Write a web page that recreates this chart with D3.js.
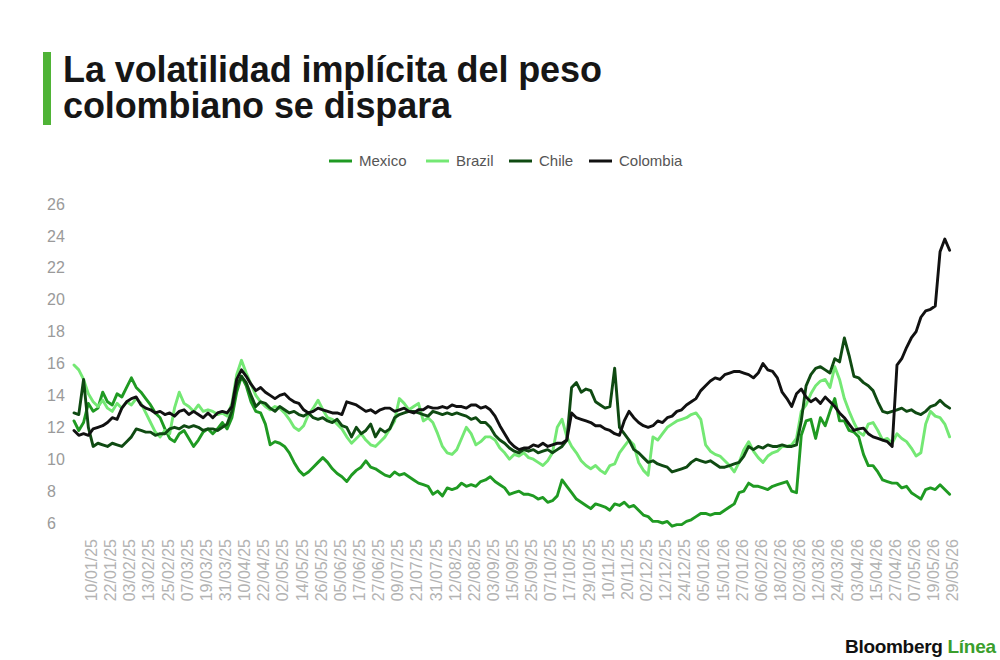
<!DOCTYPE html>
<html>
<head>
<meta charset="utf-8">
<script src="https://cdn.jsdelivr.net/npm/d3@7"></script>
<style>
  body { margin: 0; background: #fff; }
  svg { display: block; font-family: "Liberation Sans", Arial, sans-serif; }
  .title { font-size: 36px; font-weight: bold; fill: #161616; letter-spacing: -0.1px; }
  .legend text { font-size: 15px; fill: #555; }
  .y-axis text { font-size: 16px; fill: #9a9a9a; }
  .x-axis text { font-size: 16px; fill: #b3b3b3; }
  .line { fill: none; stroke-width: 2.9; stroke-linejoin: round; stroke-linecap: round; }
</style>
</head>
<body>
<svg width="1000" height="660"></svg>
<script>
// one value every 2 trading days, starting at trading day 0 (01/01/25)
var step = 2;
var lastDay = 367;

var mexico = [
  12.4,11.8,12.3,13.5,13.0,13.2,14.2,13.6,13.4,14.1,
  13.9,14.5,15.1,14.5,14.2,13.8,13.4,12.9,12.6,11.9,
  11.3,11.1,11.6,11.8,11.3,10.8,11.2,11.7,11.9,11.6,
  11.9,12.3,11.9,12.6,14.2,15.2,14.6,13.6,13.0,12.9,
  12.2,10.9,11.1,11.0,10.8,10.4,9.8,9.3,9.0,9.2,
  9.5,9.8,10.1,9.8,9.4,9.1,8.9,8.6,9.0,9.3,
  9.5,9.9,9.5,9.4,9.2,9.0,8.9,9.2,9.0,9.1,
  8.9,8.7,8.5,8.4,8.3,7.8,8.0,7.7,8.2,8.1,
  8.2,8.5,8.3,8.4,8.3,8.6,8.7,8.9,8.6,8.4,
  8.2,7.8,7.9,8.0,7.8,7.8,7.7,7.5,7.6,7.3,
  7.4,7.7,8.7,8.3,7.9,7.5,7.3,7.1,6.9,7.2,
  7.1,7.0,6.8,7.2,7.1,7.3,7.0,7.1,6.8,6.5,
  6.4,6.1,6.1,6.0,6.1,5.8,5.9,5.9,6.1,6.2,
  6.4,6.6,6.6,6.5,6.6,6.6,6.8,7.0,7.2,7.9,
  8.0,8.5,8.3,8.3,8.2,8.1,8.3,8.4,8.5,8.6,
  8.0,7.9,11.5,12.4,12.5,11.3,12.6,12.1,13.0,13.8,
  12.4,12.4,11.8,11.7,11.4,10.3,9.6,9.6,9.2,8.7,
  8.6,8.5,8.5,8.2,8.3,7.9,7.7,7.5,8.1,8.2,
  8.1,8.4,8.1,7.8
];

var brazil = [
  15.9,15.6,15.0,14.1,13.6,13.3,13.7,13.2,13.0,13.5,
  13.2,13.6,13.4,13.8,13.5,12.9,12.3,11.7,11.4,11.8,
  11.6,13.2,14.2,13.5,13.3,13.0,13.4,13.0,13.1,13.0,
  12.8,12.9,12.7,13.5,15.3,16.2,15.4,14.7,14.0,13.6,
  13.3,13.1,13.3,13.2,12.9,12.5,12.0,11.8,12.1,12.8,
  13.2,13.7,13.1,12.6,12.5,12.2,11.9,11.4,11.0,11.3,
  11.6,11.2,10.9,10.8,11.1,11.4,11.9,12.4,13.8,13.5,
  13.1,13.3,13.5,12.4,12.6,12.3,11.6,10.8,10.4,10.3,
  10.6,11.3,12.0,11.6,10.9,11.1,11.4,11.4,11.2,10.7,
  10.4,10.0,10.3,10.2,10.4,10.1,10.0,9.8,9.6,9.9,
  10.4,12.0,12.5,11.4,10.8,10.4,9.9,9.6,9.4,9.6,
  9.3,9.1,9.6,9.7,10.4,10.8,11.2,10.9,9.8,9.3,
  9.0,11.4,11.2,11.6,12.0,12.2,12.4,12.5,12.6,12.8,
  12.9,12.5,10.9,10.5,10.3,10.2,9.9,9.6,9.2,9.8,
  10.6,11.1,10.5,10.1,9.8,10.2,10.4,10.5,10.8,10.8,
  10.9,11.3,13.0,13.4,14.1,14.6,14.9,15.0,14.5,15.8,
  15.0,13.8,13.0,12.3,11.7,11.5,12.2,12.3,11.8,11.2,
  11.3,11.0,11.6,11.3,11.1,10.7,10.2,10.4,12.2,13.0,
  12.7,12.6,12.2,11.4
];

var chile = [
  12.9,12.8,15.0,12.0,10.8,11.0,10.9,10.8,11.0,10.9,
  10.8,11.1,11.4,11.9,11.8,11.7,11.7,11.5,11.6,11.6,
  11.9,12.0,11.9,12.1,12.0,12.1,12.0,11.8,11.9,11.9,
  11.8,12.0,12.2,13.0,14.6,15.2,14.8,14.0,13.3,13.6,
  13.5,13.2,13.0,13.3,13.1,12.9,13.0,12.8,12.7,12.9,
  12.6,12.5,12.6,12.4,12.3,12.5,12.1,12.0,11.4,12.0,
  11.6,11.8,12.2,11.4,11.9,11.7,11.9,12.6,12.8,12.9,
  13.0,13.0,12.9,12.8,12.7,13.0,12.9,12.8,12.9,12.8,
  12.9,12.8,12.7,12.5,12.6,12.3,12.3,12.0,11.5,11.2,
  11.0,10.7,10.5,10.4,10.6,10.5,10.6,10.4,10.5,10.6,
  10.4,10.6,10.8,11.2,14.5,14.8,14.2,14.4,14.3,13.6,
  13.4,13.2,13.3,15.7,12.0,11.6,11.2,10.6,10.4,10.1,
  9.8,9.9,9.7,9.6,9.5,9.2,9.3,9.4,9.5,9.8,
  10.0,9.9,9.8,9.9,9.7,9.5,9.5,9.6,9.7,9.8,
  10.2,10.8,10.6,10.8,10.7,10.9,10.8,10.8,10.9,10.8,
  10.8,10.9,12.4,14.6,15.3,15.7,15.8,15.6,15.4,16.3,
  16.1,17.6,16.5,15.2,15.1,14.8,14.6,14.3,13.6,13.0,
  12.9,13.0,13.1,13.2,13.0,13.1,12.9,12.8,13.0,13.3,
  13.4,13.7,13.4,13.2
];

var colombia = [
  11.8,11.5,11.6,11.5,11.9,12.0,12.1,12.3,12.6,12.5,
  13.2,13.6,13.8,13.9,13.4,13.2,13.1,12.9,13.0,12.8,
  12.9,12.7,13.0,13.1,12.8,13.0,12.8,12.6,12.9,12.6,
  12.9,13.0,12.9,13.3,15.0,15.6,15.2,14.7,14.3,14.5,
  14.2,14.0,13.8,14.0,14.1,13.8,13.6,13.5,13.1,12.9,
  13.0,13.2,13.1,13.0,12.9,12.9,12.8,13.6,13.5,13.4,
  13.2,13.0,13.1,12.9,13.1,13.2,13.2,13.0,13.1,13.2,
  13.0,12.9,13.1,13.1,13.3,13.2,13.2,13.3,13.2,13.4,
  13.3,13.3,13.2,13.4,13.4,13.2,13.3,13.1,12.7,12.1,
  11.6,11.1,10.8,10.6,10.7,10.7,10.9,10.8,11.0,10.8,
  10.9,11.0,11.0,11.2,12.9,12.6,12.5,12.4,12.3,12.1,
  12.1,11.9,11.8,11.6,11.5,12.4,13.0,12.6,12.3,12.1,
  12.0,12.1,12.4,12.3,12.6,12.7,13.0,13.1,13.4,13.6,
  13.8,14.3,14.6,14.9,15.1,15.0,15.3,15.4,15.5,15.5,
  15.4,15.3,15.1,15.4,16.0,15.6,15.5,15.1,14.2,13.8,
  13.3,14.1,14.4,13.9,13.6,13.8,13.5,13.9,13.6,13.3,
  12.9,12.6,12.2,11.8,11.9,11.95,11.6,11.4,11.3,11.2,
  11.1,10.8,15.9,16.3,17.0,17.6,18.0,18.9,19.3,19.4,
  19.6,23.0,23.8,23.1
];

var seriesNames = ["Mexico", "Brazil", "Chile", "Colombia"];
var seriesColors = ["#1f9a22", "#74e874", "#0f4a12", "#111111"];
var seriesValues = [mexico, brazil, chile, colombia];

var yTicks = [6, 8, 10, 12, 14, 16, 18, 20, 22, 24, 26];

// labels every 8 trading days, first one on trading day 7
var tickLabels = [
  "10/01/25","22/01/25","03/02/25","13/02/25","25/02/25","07/03/25","19/03/25","31/03/25",
  "10/04/25","22/04/25","02/05/25","14/05/25","26/05/25","05/06/25","17/06/25","27/06/25",
  "09/07/25","21/07/25","31/07/25","12/08/25","22/08/25","03/09/25","15/09/25","25/09/25",
  "07/10/25","17/10/25","29/10/25","10/11/25","20/11/25","02/12/25","12/12/25","24/12/25",
  "05/01/26","15/01/26","27/01/26","06/02/26","18/02/26","02/03/26","12/03/26","24/03/26",
  "03/04/26","15/04/26","27/04/26","07/05/26","19/05/26","29/05/26"
];
var tickDays = tickLabels.map(function(d, i) { return 7 + 8 * i; });

var svg = d3.select("svg");

var x = d3.scaleLinear().domain([0, lastDay]).range([74, 952]);
var y = d3.scaleLinear().domain([6, 26]).range([523, 204]);

// title
svg.append("rect")
    .attr("x", 43).attr("y", 52)
    .attr("width", 8).attr("height", 73)
    .attr("fill", "#4fb336");
svg.append("text").attr("class", "title").attr("x", 63).attr("y", 82)
    .text("La volatilidad implícita del peso");
svg.append("text").attr("class", "title").attr("x", 63).attr("y", 118)
    .text("colombiano se dispara");

// legend
var legendX = [329, 426, 509, 589];
var legend = svg.append("g").attr("class", "legend");
seriesNames.forEach(function(name, i) {
    var g = legend.append("g").attr("transform", "translate(" + legendX[i] + ",161)");
    g.append("line")
        .attr("x1", 0).attr("x2", 23)
        .attr("stroke", seriesColors[i])
        .attr("stroke-width", 3);
    g.append("text")
        .attr("x", 30).attr("dy", "0.35em")
        .text(name);
});

// y axis
var yAxis = svg.append("g")
    .attr("class", "y-axis")
    .attr("transform", "translate(47,0)")
    .call(d3.axisLeft(y).tickValues(yTicks).tickSize(0).tickPadding(0));
yAxis.select(".domain").remove();
yAxis.selectAll("text")
    .attr("x", 0)
    .style("text-anchor", "start")
    .attr("font-family", null);

// x axis
var xAxis = svg.append("g")
    .attr("class", "x-axis")
    .attr("transform", "translate(0,536)")
    .call(d3.axisBottom(x).tickValues(tickDays)
        .tickFormat(function(d, i) { return tickLabels[i]; })
        .tickSize(0));
xAxis.select(".domain").remove();
xAxis.selectAll("text")
    .attr("transform", "rotate(-90)")
    .attr("x", -3)
    .attr("y", 0)
    .attr("dy", "0.36em")
    .style("text-anchor", "end")
    .attr("font-family", null);

// lines
var line = d3.line()
    .x(function(d, i) { return x(i * step); })
    .y(function(d) { return y(d); });

seriesValues.forEach(function(values, i) {
    svg.append("path")
        .attr("class", "line")
        .attr("stroke", seriesColors[i])
        .attr("d", line(values));
});

// logo
var logo = svg.append("text")
    .attr("x", 845).attr("y", 653)
    .attr("font-size", 19)
    .attr("font-weight", "bold")
    .attr("letter-spacing", "-0.3px");
logo.append("tspan").attr("fill", "#111").text("Bloomberg ");
logo.append("tspan").attr("fill", "#3a9e2c").text("Línea");
</script>
</body>
</html>
